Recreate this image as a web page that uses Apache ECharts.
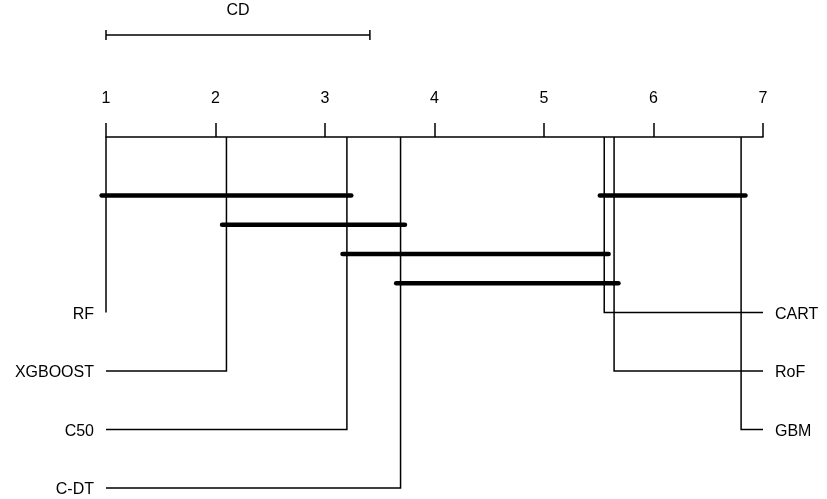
<!DOCTYPE html>
<html>
<head>
<meta charset="utf-8">
<script src="https://cdn.jsdelivr.net/npm/echarts@6/dist/echarts.min.js"></script>
<style>
  html, body { margin: 0; padding: 0; background: #fff; }
  #chart { width: 827px; height: 499px; }
</style>
</head>
<body>
<div id="chart"></div>
<script>
// average ranks
var methods = ['RF', 'XGBOOST', 'C50', 'C-DT', 'CART', 'RoF', 'GBM'];
var ranks = [1.00, 2.10, 3.20, 3.69, 5.55, 5.64, 6.80];
var criticalDiff = 2.41;
// groups not significantly different (in drawing order)
var cliques = [['RF', 'C50'], ['XGBOOST', 'C-DT'], ['C50', 'CART'], ['CART', 'GBM'], ['C-DT', 'RoF']];
var tickLabels = ['1', '2', '3', '4', '5', '6', '7'];

var FONT = '16px "Liberation Sans", Arial, sans-serif';
var INK = '#000';

var chart = echarts.init(document.getElementById('chart'));

// left half / right half of methods, by rank
var order = methods.map(function (m, i) { return i; })
  .sort(function (a, b) { return ranks[a] - ranks[b]; });
var nLeft = Math.ceil(methods.length / 2);
var methodData = order.map(function (idx, k) {
  var left = k < nLeft;
  var row = left ? 6 + 2 * k : 6 + 2 * (k - nLeft);
  return [ranks[idx], row, left ? 0 : 1, idx];
});

// stack the clique bars greedily
var pad = 0.04;
var levels = [];
var cliqueData = cliques.map(function (c) {
  var a = ranks[methods.indexOf(c[0])] - pad;
  var b = ranks[methods.indexOf(c[1])] + pad;
  var lv = 0;
  while (levels[lv] && levels[lv].some(function (s) { return a <= s[1] && b >= s[0]; })) lv++;
  (levels[lv] = levels[lv] || []).push([a, b]);
  return [a, b, 2 + lv];
});

chart.setOption({
  backgroundColor: '#fff',
  animation: false,
  grid: { left: 106, right: 64, top: 137, height: 351 },
  xAxis: {
    type: 'value',
    position: 'top',
    min: 1,
    max: 7,
    interval: 1,
    splitLine: { show: false },
    axisLine: { show: true, lineStyle: { color: INK, width: 1.5 } },
    axisTick: { show: true, length: 14, lineStyle: { color: INK, width: 1.5 } },
    axisLabel: {
      margin: 30,
      fontSize: 16,
      fontFamily: '"Liberation Sans", Arial, sans-serif',
      color: INK,
      formatter: function (v) { return tickLabels[Math.round(v) - 1]; }
    }
  },
  yAxis: { type: 'value', inverse: true, min: 0, max: 12, show: false },
  series: [
    {
      type: 'custom',
      clip: false,
      silent: true,
      data: methodData,
      renderItem: function (params, api) {
        var r = api.value(0), row = api.value(1), left = api.value(2) === 0;
        var name = methods[api.value(3)];
        var p0 = api.coord([r, 0]);
        var p1 = api.coord([r, row]);
        var p2 = api.coord([left ? 1 : 7, row]);
        return {
          type: 'group',
          children: [
            {
              type: 'polyline',
              shape: { points: [p0, p1, p2] },
              style: { stroke: INK, lineWidth: 1.5, fill: null }
            },
            {
              type: 'text',
              style: {
                text: name,
                x: left ? p2[0] - 12 : p2[0] + 12,
                y: p2[1] + 2,
                align: left ? 'right' : 'left',
                verticalAlign: 'middle',
                font: FONT,
                fill: INK
              }
            }
          ]
        };
      }
    },
    {
      type: 'custom',
      clip: false,
      silent: true,
      data: cliqueData,
      renderItem: function (params, api) {
        var a = api.coord([api.value(0), api.value(2)]);
        var b = api.coord([api.value(1), api.value(2)]);
        return {
          type: 'line',
          shape: { x1: a[0], y1: a[1], x2: b[0], y2: b[1] },
          style: { stroke: INK, lineWidth: 4.5, lineCap: 'round' }
        };
      }
    },
    {
      type: 'custom',
      clip: false,
      silent: true,
      data: [[1, 1 + criticalDiff, -3.49]],
      renderItem: function (params, api) {
        var a = api.coord([api.value(0), api.value(2)]);
        var b = api.coord([api.value(1), api.value(2)]);
        return {
          type: 'group',
          children: [
            { type: 'line', shape: { x1: a[0], y1: a[1], x2: b[0], y2: b[1] }, style: { stroke: INK, lineWidth: 1.5 } },
            { type: 'line', shape: { x1: a[0], y1: a[1] - 5, x2: a[0], y2: a[1] + 5 }, style: { stroke: INK, lineWidth: 1.5 } },
            { type: 'line', shape: { x1: b[0], y1: b[1] - 5, x2: b[0], y2: b[1] + 5 }, style: { stroke: INK, lineWidth: 1.5 } },
            {
              type: 'text',
              style: {
                text: 'CD', x: (a[0] + b[0]) / 2, y: a[1] - 24,
                align: 'center', verticalAlign: 'middle', font: FONT, fill: INK
              }
            }
          ]
        };
      }
    }
  ]
});
</script>
</body>
</html>
